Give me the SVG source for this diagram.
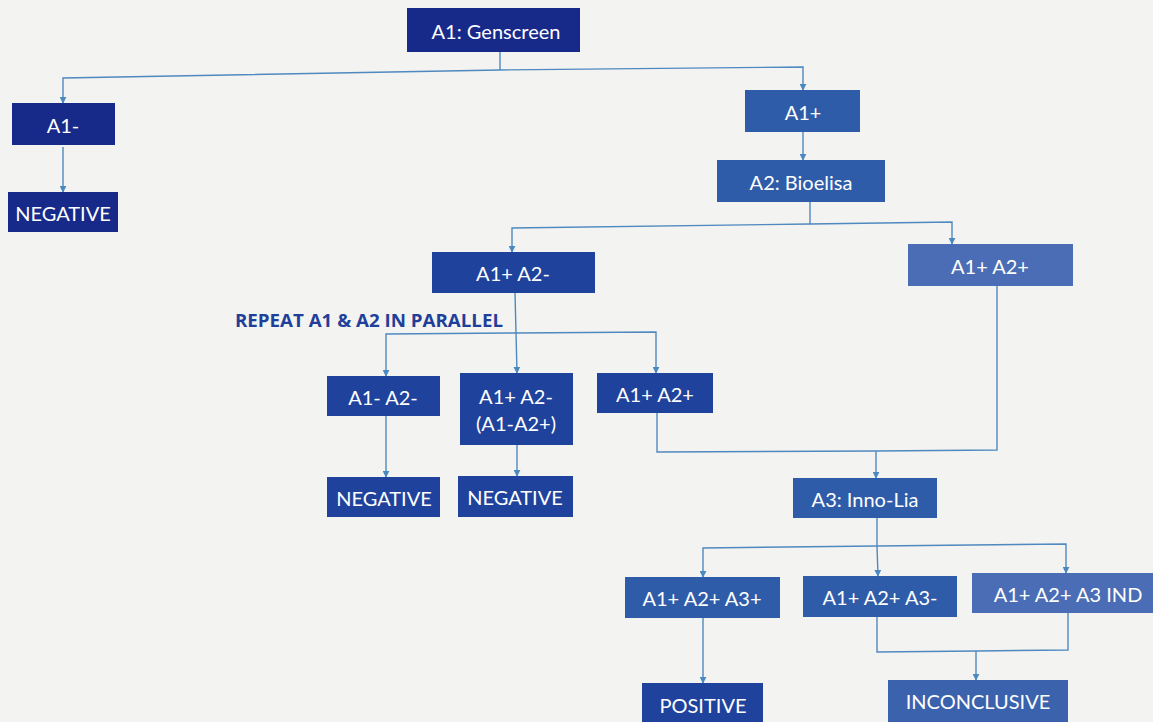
<svg xmlns="http://www.w3.org/2000/svg" width="1153" height="722" viewBox="0 0 1153 722">
<defs>
<marker id="arr" viewBox="0 0 10 10" refX="9" refY="5" markerWidth="7" markerHeight="7" orient="auto" markerUnits="userSpaceOnUse">
<path d="M0,0 L10,5 L0,10 z" fill="#4a88c0"/>
</marker>
<style>
.c{fill:none;stroke:#4f89bf;stroke-width:1.4}
.a{marker-end:url(#arr)}
.t{font-family:Lato,"Open Sans","Liberation Sans",sans-serif;font-size:20px;fill:#ffffff;text-anchor:middle;dominant-baseline:central}
.d{fill:#172a8a}
.m{fill:#1f439d}
.b{fill:#2f5ca9}
.l{fill:#4a6db5}
.r{font-family:"Open Sans","Liberation Sans",sans-serif;font-size:17px;font-weight:bold;fill:#1f3f9a}
</style>
</defs>
<rect width="1153" height="722" fill="#f3f3f1"/>
<g id="connectors">
<polyline class="c" points="500,52 500,70"/>
<polyline class="c a" points="500,70 63,78 63,103"/>
<polyline class="c a" points="500,70 803,67 803,90"/>
<polyline class="c a" points="63,147 63,192"/>
<polyline class="c a" points="803,132 803,160"/>
<polyline class="c" points="810,202 810,224"/>
<polyline class="c a" points="810,224 512,228 512,252"/>
<polyline class="c a" points="810,224 952,222 952,244"/>
<polyline class="c a" points="515,293 516,333 517,373"/>
<polyline class="c a" points="516,333 386,334 386,376"/>
<polyline class="c a" points="516,333 656,332 656,373"/>
<polyline class="c a" points="386,416 386,477"/>
<polyline class="c a" points="517,445 517,476"/>
<polyline class="c" points="657,413 657,452 876,451"/>
<polyline class="c" points="997,286 997,450 876,451"/>
<polyline class="c a" points="876,451 876,478"/>
<polyline class="c" points="877,518 877,546"/>
<polyline class="c a" points="877,546 703,548 703,577"/>
<polyline class="c a" points="877,546 878,576"/>
<polyline class="c a" points="877,546 1066,544 1066,573"/>
<polyline class="c a" points="703,618 703,683"/>
<polyline class="c" points="877,617 877,652 976,651"/>
<polyline class="c" points="1068,613 1068,650 976,651"/>
<polyline class="c a" points="976,651 976,680"/>
</g>
<g id="n-a1"><rect class="d" x="407" y="8" width="173" height="44"/><text class="t" x="496" y="31">A1: Genscreen</text></g>
<g id="n-a1neg"><rect class="d" x="12" y="103" width="103" height="42"/><text class="t" x="63" y="125">A1-</text></g>
<g id="n-neg1"><rect class="d" x="8" y="192" width="110" height="40"/><text class="t" x="63" y="213">NEGATIVE</text></g>
<g id="n-a1pos"><rect class="b" x="745" y="90" width="115" height="42"/><text class="t" x="803" y="112">A1+</text></g>
<g id="n-a2"><rect class="b" x="717" y="160" width="168" height="42"/><text class="t" x="801" y="182">A2: Bioelisa</text></g>
<g id="n-a1pa2n"><rect class="m" x="432" y="252" width="163" height="41"/><text class="t" x="513" y="273">A1+ A2-</text></g>
<g id="n-a1pa2p"><rect class="l" x="908" y="244" width="165" height="42"/><text class="t" x="990" y="266">A1+ A2+</text></g>
<text class="r" x="235" y="327" textLength="268" lengthAdjust="spacingAndGlyphs">REPEAT A1 &amp; A2 IN PARALLEL</text>
<g id="n-r1"><rect class="m" x="327" y="376" width="113" height="40"/><text class="t" x="383" y="397">A1- A2-</text></g>
<g id="n-r2"><rect class="m" x="460" y="373" width="113" height="72"/><text class="t" x="516" y="396">A1+ A2-</text><text class="t" x="516" y="423">(A1-A2+)</text></g>
<g id="n-r3"><rect class="m" x="597" y="373" width="116" height="40"/><text class="t" x="655" y="394">A1+ A2+</text></g>
<g id="n-neg2"><rect class="m" x="327" y="477" width="113" height="40"/><text class="t" x="384" y="498">NEGATIVE</text></g>
<g id="n-neg3"><rect class="m" x="458" y="476" width="115" height="41"/><text class="t" x="515" y="497">NEGATIVE</text></g>
<g id="n-a3"><rect class="b" x="793" y="478" width="144" height="40"/><text class="t" x="865" y="499">A3: Inno-Lia</text></g>
<g id="n-a3p"><rect class="b" x="625" y="577" width="155" height="41"/><text class="t" x="702" y="598">A1+ A2+ A3+</text></g>
<g id="n-a3n"><rect class="b" x="803" y="576" width="154" height="41"/><text class="t" x="880" y="597">A1+ A2+ A3-</text></g>
<g id="n-a3i"><rect class="l" x="972" y="573" width="183" height="40"/><text class="t" x="1068" y="594">A1+ A2+ A3 IND</text></g>
<g id="n-pos"><rect class="m" x="642" y="683" width="121" height="42"/><text class="t" x="703" y="705">POSITIVE</text></g>
<g id="n-inc"><rect class="l" x="888" y="680" width="180" height="42" style="fill:#3a62ad"/><text class="t" x="978" y="701">INCONCLUSIVE</text></g>
</svg>
